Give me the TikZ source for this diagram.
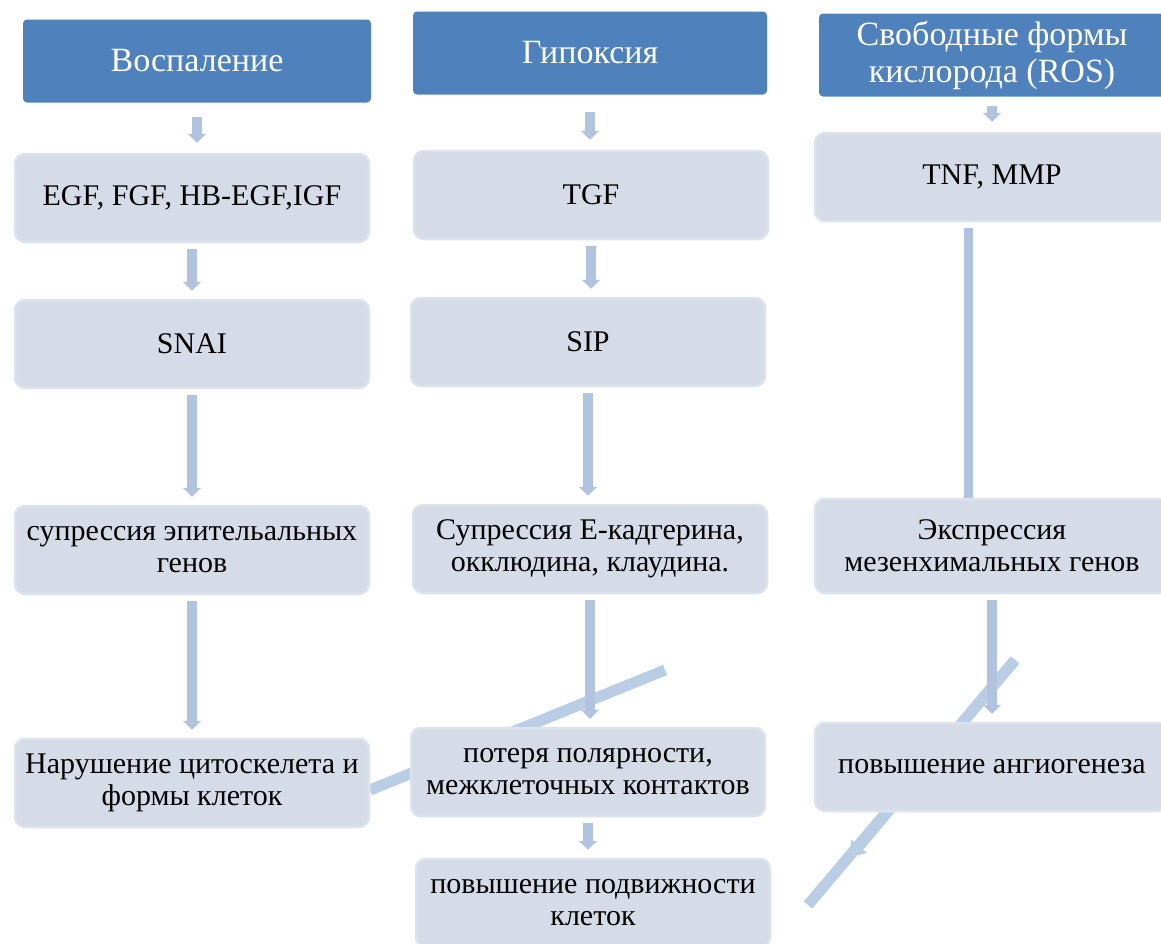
\documentclass[tikz,border=0pt]{standalone}
\usepackage{fontspec}
\setmainfont{Liberation Serif}
\usetikzlibrary{arrows.meta}
\definecolor{hdrblue}{HTML}{4F81BD}
\definecolor{boxfill}{HTML}{D5DCE8}
\definecolor{boxedge}{HTML}{DDE3ED}
\definecolor{arrblue}{HTML}{B1C3DE}
\definecolor{diagblue}{HTML}{B9CDE5}
\begin{document}
\begin{tikzpicture}[x=1pt,y=-1pt,line join=round,
	hdr/.style={fill=hdrblue,rounded corners=4pt,minimum height=83pt,text=white,align=center,font=\fontsize{34}{37}\selectfont},
	box/.style={fill=boxfill,draw=boxedge,line width=2.5pt,rounded corners=10pt,minimum width=354pt,minimum height=88pt,align=center,font=\fontsize{30}{32}\selectfont},
	flow/.style={draw=arrblue,line width=10pt,-{Triangle[width=18pt,length=9pt]},shorten <=6pt,shorten >=8pt},
	hflow/.style={flow,shorten <=#1,shorten >=10pt},
	stray/.style={draw=diagblue,line width=11pt}]
	\useasboundingbox (0,0) rectangle (1161,943);
	
	\coordinate (dl1) at (665,670); \coordinate (dl2) at (370,790);
	\coordinate (dr1) at (1015,660); \coordinate (dr2) at (850,857); \coordinate (dr3) at (808,905);
	\draw[stray] (dl1) -- (dl2);
	\draw[stray] (dr1) -- (dr3);
	\draw[stray,-{Triangle[width=20pt,length=14pt]}] (dr1) -- (dr2);
	
	\node[hdr,minimum width=348pt] (hVos) at (197,61) {Воспаление};
	\node[box] (egf) at (192,198) {EGF, FGF, HB-EGF,IGF};
	\node[box] (snai) at (192,344) {SNAI};
	\node[box] (supEp) at (192,550) {супрессия эпительальных\\генов};
	\node[box] (cyto) at (192,783) {Нарушение цитоскелета и\\формы клеток};
	
	\node[hdr,minimum width=354pt] (hHyp) at (590,53) {Гипоксия};
	\node[box] (tgf) at (591,195) {TGF};
	\node[box] (sip) at (588,342) {SIP};
	\node[box] (supE) at (590,549) {Супрессия Е-кадгерина,\\окклюдина, клаудина.};
	\node[box] (polar) at (588,772) {потеря полярности,\\межклеточных контактов};
	\node[box] (motil) at (593,903) {повышение подвижности\\клеток};
	
	\node[hdr,minimum width=346pt] (hRos) at (992,55) {Свободные формы\\кислорода (ROS)};
	\node[box] (tnf) at (992,177) {TNF, MMP};
	\node[box,minimum height=94pt] (mes) at (992,546) {Экспрессия\\мезенхимальных генов};
	\node[box] (angio) at (992,767) {повышение ангиогенеза};
	
	\foreach \s/\t/\g in {hVos/egf/14pt,hHyp/tgf/17pt,hRos/tnf/9pt}
		\draw[hflow=\g] (\s.south) -- (\s.south |- \t.north);
	\foreach \s/\t in {egf/snai,snai/supEp,supEp/cyto,tgf/sip,sip/supE,supE/polar,polar/motil,mes/angio}
		\draw[flow] (\s.south) -- (\s.south |- \t.north);
	\draw[draw=arrblue,line width=9pt,shorten <=6pt] ([xshift=-24pt]tnf.south) -- ([xshift=-24pt]tnf.south |- mes.north);
\end{tikzpicture}
\end{document}
